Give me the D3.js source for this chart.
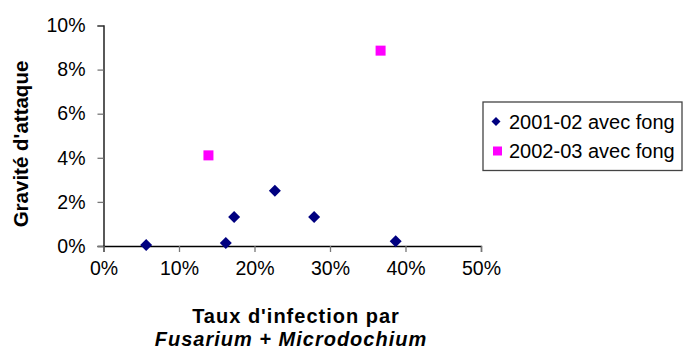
<!DOCTYPE html>
<html><head><meta charset="utf-8">
<script src="https://cdn.jsdelivr.net/npm/d3@7"></script>
<style>body{margin:0;background:#fff}svg{display:block}text{font-family:"Liberation Sans",Arial,sans-serif}</style>
</head><body>
<script>
const seriesNames = ["2001-02 avec fong", "2002-03 avec fong"];
const s1x = [0.0565, 0.162, 0.173, 0.227, 0.279, 0.387];
const s1y = [0.0005, 0.0014, 0.0131, 0.0251, 0.0131, 0.0021];
const s2x = [0.139, 0.367];
const s2y = [0.0411, 0.0886];
const xTicks = [0, 0.1, 0.2, 0.3, 0.4, 0.5];
const yTicks = [0, 0.02, 0.04, 0.06, 0.08, 0.1];
const yTitle = "Gravité d'attaque";
const xTitle1 = "Taux d'infection par";
const xTitle2 = "Fusarium + Microdochium";

const W = 683, H = 351;
const svg = d3.select("body").append("svg").attr("width", W).attr("height", H);
const x = d3.scaleLinear().domain([0, 0.5]).range([103.5, 481]);
const y = d3.scaleLinear().domain([0, 0.1]).range([246, 25.5]);
const fmt = d3.format(".0%");

// y axis
const ya = svg.append("g").attr("transform", `translate(${x(0)},0)`)
  .call(d3.axisLeft(y).tickValues(yTicks).tickFormat(fmt).tickSize(6).tickPadding(12));
ya.select(".domain").attr("stroke", "#000").attr("stroke-width", 1.3);
ya.selectAll(".tick line").attr("stroke", "#777").attr("stroke-width", 1.3);
ya.selectAll(".tick text").attr("font-size", 19.5).attr("fill", "#000").attr("font-family", "Liberation Sans, Arial, sans-serif");

// x axis
const xa = svg.append("g").attr("transform", `translate(0,${y(0)})`)
  .call(d3.axisBottom(x).tickValues(xTicks).tickFormat(fmt).tickSize(6).tickPadding(9));
xa.select(".domain").attr("stroke", "#000").attr("stroke-width", 1.3);
xa.selectAll(".tick line").attr("stroke", "#777").attr("stroke-width", 1.3);
xa.selectAll(".tick text").attr("font-size", 19.5).attr("fill", "#000").attr("font-family", "Liberation Sans, Arial, sans-serif");

// series 1: diamonds
const s1 = s1x.map((v, i) => [v, s1y[i]]);
svg.append("g").selectAll("path").data(s1).join("path")
  .attr("transform", d => `translate(${x(d[0])},${y(d[1])})`)
  .attr("d", "M0,-6L6,0L0,6L-6,0Z").attr("fill", "#000080");

// series 2: squares
const s2 = s2x.map((v, i) => [v, s2y[i]]);
svg.append("g").selectAll("rect").data(s2).join("rect")
  .attr("x", d => x(d[0]) - 5).attr("y", d => y(d[1]) - 5)
  .attr("width", 10).attr("height", 10).attr("fill", "#FF00FF");

// axis titles
svg.append("text").attr("transform", "translate(28,144) rotate(-90)")
  .attr("text-anchor", "middle").attr("font-weight", "bold").attr("font-size", 20.5).text(yTitle);
svg.append("text").attr("x", 296).attr("y", 323).attr("text-anchor", "middle")
  .attr("font-weight", "bold").attr("font-size", 20).attr("letter-spacing", 1).text(xTitle1);
svg.append("text").attr("x", 291).attr("y", 346).attr("text-anchor", "middle")
  .attr("font-weight", "bold").attr("font-style", "italic").attr("font-size", 20).attr("letter-spacing", 1)
  .text(xTitle2);

// legend
const lg = svg.append("g");
lg.append("rect").attr("x", 483).attr("y", 102).attr("width", 199).attr("height", 68.5)
  .attr("fill", "#fff").attr("stroke", "#444").attr("stroke-width", 1.3);
const rows = [121.5, 151];
lg.append("path").attr("transform", `translate(496,${rows[0]})`).attr("d", "M0,-4.5L4.5,0L0,4.5L-4.5,0Z").attr("fill", "#000080");
lg.append("rect").attr("x", 493).attr("y", rows[1] - 4.5).attr("width", 9).attr("height", 9).attr("fill", "#FF00FF");
lg.selectAll("text.lt").data(seriesNames).join("text").attr("class", "lt")
  .attr("x", 509).attr("y", (d, i) => rows[i] + 7).attr("font-size", 20).text(d => d);
</script>
</body></html>
